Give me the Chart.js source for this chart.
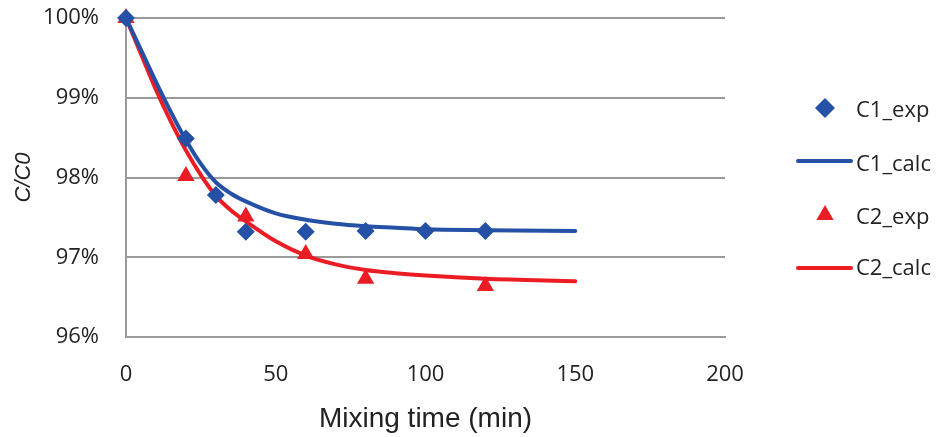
<!DOCTYPE html>
<html>
<head>
<meta charset="utf-8">
<script src="https://cdn.jsdelivr.net/npm/chart.js@4"></script>
<style>
  html, body { margin: 0; padding: 0; background: #fff; }
  #wrap { width: 940px; height: 437px; }
</style>
</head>
<body>
<div id="wrap"><canvas id="c" width="940" height="437"></canvas></div>
<script>
// ---- data ----
const expTimes1 = [0, 20, 30, 40, 60, 80, 100, 120];
const c1Exp     = [100, 98.49, 97.78, 97.32, 97.32, 97.33, 97.33, 97.33];

const expTimes2 = [0, 20, 40, 60, 80, 120];
const c2Exp     = [100, 98.02, 97.51, 97.04, 96.73, 96.64];

const calcTimes = [0, 5, 10, 15, 20, 25, 30, 35, 40, 50, 60, 70, 80, 90, 100, 120, 150];
const c1Calc    = [100, 99.6, 99.2, 98.82, 98.47, 98.17, 97.94, 97.8, 97.7, 97.55, 97.47, 97.42, 97.39, 97.37, 97.35, 97.34, 97.33];
const c2Calc    = [100, 99.55, 99.1, 98.7, 98.34, 98.03, 97.77, 97.59, 97.45, 97.2, 97.02, 96.91, 96.84, 96.8, 96.77, 96.73, 96.7];

const seriesNames = ['C1_exp', 'C1_calc', 'C2_exp', 'C2_calc'];
const xTicks = [0, 50, 100, 150, 200];
const yTicks = [96, 97, 98, 99, 100];

const BLUE = '#2450a6';
const RED = '#ec1c24';
const GRID = '#9a9a9a';
const TXT = '#222222';

const pts = (xs, ys) => xs.map((x, i) => ({ x: x, y: ys[i] }));

const sideLegend = {
  id: 'sideLegend',
  afterDraw(chart) {
    const ctx = chart.ctx;
    const markY = [108, 161, 215, 268];
    const textY = [111, 165, 218, 269];
    chart.data.datasets.forEach((ds, i) => {
      ctx.save();
      if (ds.showLine) {
        ctx.strokeStyle = ds.borderColor;
        ctx.lineWidth = 4;
        ctx.lineCap = 'round';
        ctx.beginPath();
        ctx.moveTo(798, markY[i]);
        ctx.lineTo(851, markY[i]);
        ctx.stroke();
      } else {
        ctx.fillStyle = ds.backgroundColor;
        ctx.strokeStyle = ds.backgroundColor;
        Chart.helpers.drawPoint(ctx, { pointStyle: ds.pointStyle, radius: 10, rotation: 0, borderWidth: 0 }, 825, markY[i]);
      }
      ctx.fillStyle = TXT;
      ctx.font = '22px "Open Sans"';
      ctx.textBaseline = 'middle';
      ctx.textAlign = 'left';
      ctx.fillText(ds.label, 856, textY[i]);
      ctx.restore();
    });
  }
};

new Chart(document.getElementById('c'), {
  type: 'scatter',
  data: {
    datasets: [
      { label: seriesNames[0], data: pts(expTimes1, c1Exp), showLine: false, pointStyle: 'rectRot', clip: false,
        pointRadius: 9, pointHoverRadius: 9, backgroundColor: BLUE, borderColor: BLUE, borderWidth: 0, order: 0 },
      { label: seriesNames[1], data: pts(calcTimes, c1Calc), showLine: true, pointRadius: 0, clip: false,
        borderColor: BLUE, backgroundColor: BLUE, borderWidth: 4, borderCapStyle: 'round', borderJoinStyle: 'round',
        cubicInterpolationMode: 'monotone', order: 1 },
      { label: seriesNames[2], data: pts(expTimes2, c2Exp), showLine: false, pointStyle: 'triangle', clip: false,
        pointRadius: 10, pointHoverRadius: 10, backgroundColor: RED, borderColor: RED, borderWidth: 0, order: 0 },
      { label: seriesNames[3], data: pts(calcTimes, c2Calc), showLine: true, pointRadius: 0, clip: false,
        borderColor: RED, backgroundColor: RED, borderWidth: 4, borderCapStyle: 'round', borderJoinStyle: 'round',
        cubicInterpolationMode: 'monotone', order: 1 }
    ]
  },
  options: {
    responsive: false,
    animation: false,
    devicePixelRatio: 1,
    layout: { padding: { left: 8, top: 18, right: 215, bottom: 0 } },
    plugins: { legend: { display: false }, tooltip: { enabled: false } },
    scales: {
      x: {
        type: 'linear', min: 0, max: 200,
        afterBuildTicks: (s) => { s.ticks = xTicks.map(v => ({ value: v })); },
        afterFit: (s) => { s.height = 100; s.paddingLeft = 0; s.paddingRight = 0; },
        grid: { display: false },
        border: { display: true, color: GRID, width: 2 },
        ticks: { padding: 17, color: TXT, font: { family: 'Open Sans', size: 22 } },
        title: { display: true, text: 'Mixing time (min)', color: TXT,
                 font: { family: 'Liberation Sans', size: 28 }, padding: { top: 15, bottom: 1 } }
      },
      y: {
        type: 'linear', min: 96, max: 100,
        afterBuildTicks: (s) => { s.ticks = yTicks.map(v => ({ value: v })); },
        afterFit: (s) => { s.width = 118; s.paddingTop = 0; s.paddingBottom = 0; },
        grid: { color: GRID, lineWidth: 2, drawTicks: false },
        border: { display: true, color: GRID, width: 2 },
        ticks: { padding: 27, color: TXT, font: { family: 'Open Sans', size: 22 },
                 callback: (v) => v + '%' },
        title: { display: true, text: 'C/C0', color: TXT,
                 font: { family: 'Liberation Sans', size: 22, style: 'italic' }, padding: { top: 3, bottom: 0 } }
      }
    }
  },
  plugins: [sideLegend]
});
</script>
</body>
</html>
